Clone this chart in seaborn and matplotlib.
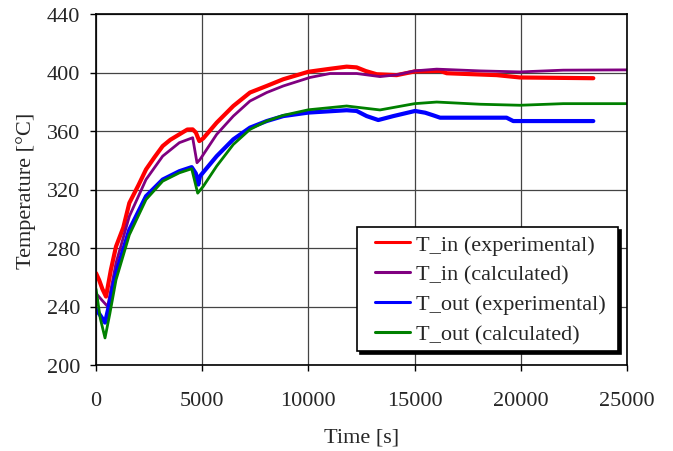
import matplotlib
matplotlib.use("Agg")
import matplotlib.pyplot as plt
from matplotlib.legend_handler import HandlerLine2D
import seaborn as sns
import pandas as pd

# ---- data ----
t_in_exp_t = [0, 150, 300, 471, 700, 942, 1285, 1570, 2000, 2354, 2750, 3139, 3500, 3924,
              4300, 4551, 4700, 4865, 5052, 5682, 6465, 7250, 8037, 8818, 10000, 11000,
              11800, 12270, 12700, 13215, 14157, 15000, 16200, 16511, 18865, 19962, 23414]
t_in_exp_v = [262.8, 258, 252, 246.8, 265, 281, 294, 310.8, 323, 333.7, 342, 349.7, 354, 357.7,
              361, 361.1, 359, 353.1, 355, 365.7, 377.1, 386.3, 390.8, 395.4, 400.5, 402.5,
              404, 403.5, 401, 398.8, 398.2, 400.7, 401.1, 399.5, 398.2, 396.6, 396.1]

t_in_calc_t = [0, 300, 549, 942, 1570, 2354, 3139, 3924, 4551, 4755, 4896, 5682, 6465, 7250,
               8037, 8818, 10075, 11017, 12272, 13371, 14157, 15000, 16040, 18079, 19962,
               22000, 25000]
t_in_calc_v = [249, 244, 240, 269.7, 301.7, 326.8, 342.8, 352, 355.4, 338.3, 340.5, 357.7, 370.2,
               380.5, 386.3, 390.8, 396.6, 399.3, 399.3, 397.2, 398.4, 401.1, 402.3, 401.1, 400.4,
               401.6, 401.8]

t_out_exp_t = [0, 200, 424, 600, 942, 1570, 2354, 3139, 3924, 4505, 4700, 4818, 4896, 5682,
               6465, 7250, 8037, 8818, 10000, 11800, 12272, 12743, 13290, 14000, 15020, 15500,
               15880, 16200, 19331, 19645, 23414]
t_out_exp_v = [238, 234, 229, 240, 262.8, 292.5, 315.4, 326.8, 332.5, 335.3, 331, 323.4, 329.1,
               342.8, 354.3, 362.3, 366.8, 370.2, 372.6, 374.2, 373.7, 370.2, 367.5, 370.2, 373.7,
               372.5, 370.7, 369.1, 369.1, 366.8, 366.8]

t_out_calc_t = [0, 200, 424, 650, 942, 1570, 2354, 3139, 3924, 4505, 4788, 5052, 5682, 6465,
                7250, 8037, 8818, 10000, 11800, 12429, 13371, 15000, 16040, 18079, 19962,
                22000, 25000]
t_out_calc_v = [252, 232, 218.5, 235, 258.2, 289, 313.1, 325.7, 331.4, 334.2, 317.5, 322.2, 336,
                350.8, 361.1, 366.8, 370.7, 374.5, 377.1, 376, 374.4, 378.7, 379.8, 378.3, 377.6,
                378.7, 378.7]

series_names = ["T_in (experimental)", "T_in (calculated)",
                "T_out (experimental)", "T_out (calculated)"]
series_colors = ["#ff0000", "#800080", "#0000ff", "#008000"]
x_ticks = [0, 5000, 10000, 15000, 20000, 25000]
y_ticks = [200, 240, 280, 320, 360, 400, 440]

frames = []
for name, tt, vv in zip(series_names,
                        [t_in_exp_t, t_in_calc_t, t_out_exp_t, t_out_calc_t],
                        [t_in_exp_v, t_in_calc_v, t_out_exp_v, t_out_calc_v]):
    frames.append(pd.DataFrame({"time": tt, "temp": vv, "series": name}))
df = pd.concat(frames, ignore_index=True)

sns.set_style("white")
plt.rcParams["font.family"] = ["Liberation Serif", "DejaVu Serif"]
FS = 16

W, H = 673, 452
fig = plt.figure(figsize=(W / 100, H / 100), dpi=100)
ax_l, ax_r, ax_t, ax_b = 96, 627, 15, 366
ax = fig.add_axes([ax_l / W, 1 - ax_b / H, (ax_r - ax_l) / W, (ax_b - ax_t) / H])

widths = {series_names[0]: 3.0, series_names[1]: 2.0,
          series_names[2]: 3.0, series_names[3]: 2.0}
for name, col in zip(series_names, series_colors):
    sub = df[df["series"] == name]
    sns.lineplot(data=sub, x="time", y="temp", color=col, lw=widths[name],
                 label=name, ax=ax, sort=True, estimator=None)

ax.set_xlim(0, 25000)
ax.set_ylim(200, 440)
ax.set_xticks(x_ticks)
ax.set_yticks(y_ticks)
ax.grid(True, color="#444444", linewidth=0.9)
ax.set_axisbelow(True)
for s in ax.spines.values():
    s.set_color("black")
    s.set_linewidth(1.2)
ax.tick_params(axis="both", direction="out", length=4.5, width=1.0, color="black",
               labelsize=FS, bottom=True, left=True)
ax.tick_params(axis="x", pad=14)
ax.tick_params(axis="y", pad=7)
ax.set_xlabel("Time [s]", fontsize=FS, labelpad=13)
ax.set_ylabel("Temperature [°C]", fontsize=FS, labelpad=8)


class ShiftedLine(HandlerLine2D):
    def create_artists(self, legend, orig_handle, xdescent, ydescent, width, height,
                       fontsize, trans):
        shift = 0.5 * fontsize
        return super().create_artists(legend, orig_handle, xdescent - shift, ydescent,
                                      width - shift, height, fontsize, trans)


ax_w, ax_h = ax_r - ax_l, ax_b - ax_t
leg_l, leg_r, leg_b = 357, 618, 352
leg = ax.legend(loc="lower left",
                bbox_to_anchor=((leg_l - ax_l) / ax_w, (ax_b - leg_b) / ax_h,
                                (leg_r - leg_l) / ax_w, 0.3),
                mode="expand", fontsize=FS,
                frameon=True, fancybox=False, shadow={"color": "black", "alpha": 1.0},
                edgecolor="black", framealpha=1.0, handlelength=2.1,
                borderpad=0.3, labelspacing=0.42, handletextpad=0.25,
                borderaxespad=0.0,
                handler_map={matplotlib.lines.Line2D: ShiftedLine()})
leg.get_frame().set_linewidth(1.2)
for h in leg.get_lines():
    h.set_linewidth(2.2)

fig.savefig("out.png", dpi=100)
